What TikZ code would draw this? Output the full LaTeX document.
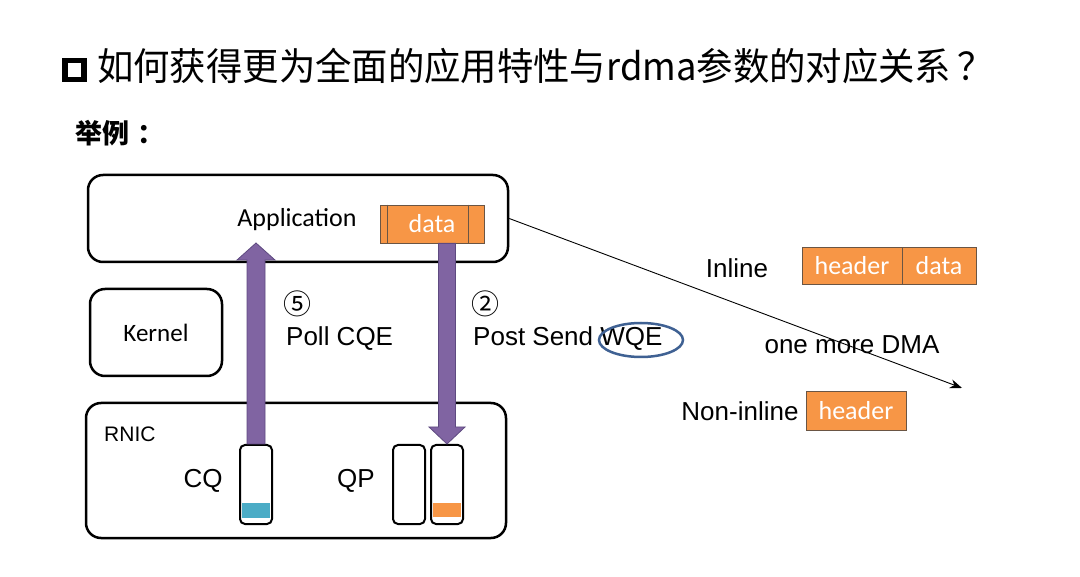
\documentclass[tikz,border=0pt]{standalone}
\usepackage{fontspec}
\setmainfont{Liberation Sans}
\newfontfamily\cjk{Noto Sans CJK SC}
\newfontfamily\calfont{Carlito}
\usetikzlibrary{arrows.meta,calc,shapes.geometric}
\definecolor{orng}{HTML}{F79646}
\definecolor{obrd}{HTML}{6A5544}
\definecolor{arrfill}{HTML}{8064A2}
\definecolor{arrbrd}{HTML}{5E4A80}
\definecolor{cqblue}{HTML}{4BACC6}
\definecolor{ellblue}{HTML}{3F6193}
\begin{document}
\begin{tikzpicture}[x=1pt,y=-1pt,
  rbox/.style={draw, line width=2.5pt, rounded corners=15pt, inner sep=0pt},
  tube/.style={draw, line width=2pt, rounded corners=5pt, minimum width=32pt, minimum height=79pt, inner sep=0pt},
  obox/.style={draw=obrd, line width=0.8pt, fill=orng, text=white, inner sep=0pt, font=\calfont\fontsize{26}{30}\selectfont},
  lbl/.style={font=\fontsize{26}{30}\selectfont, inner sep=0pt},
  clbl/.style={font=\calfont\fontsize{26}{30}\selectfont, inner sep=0pt},
  circ/.style={font=\cjk\fontsize{28}{30}\selectfont, inner sep=0pt},
  fatarrow/.style={fill=arrfill, draw=arrbrd, line width=0.8pt}
]
\useasboundingbox (0,0) rectangle (1080,577);
\fill[white] (0,0) rectangle (1080,577);

% title
\node[draw, line width=5.5pt, minimum size=19pt, inner sep=0pt] (sq) at (74.5,70) {};
\node[anchor=base west, inner sep=0pt] (title) at (97,81)
  {\scalebox{0.957}[1.0]{\cjk\fontsize{38}{42}\selectfont 如何获得更为全面的应用特性与rdma参数的对应关系\hspace{7pt}？}};
\node[anchor=base west, inner sep=0pt] (ex) at (75,144)
  {\cjk\bfseries\fontsize{27}{30}\selectfont 举例\hspace{8pt}：};

% boxes
\node[rbox, minimum width=420pt, minimum height=87pt] (app) at (298,218.5) {};
\node[clbl] (applbl) at (297,220) {Application};
\node[rbox, minimum width=132pt, minimum height=87pt] (kern) at (156,332.5) {};
\node[clbl, font=\calfont\fontsize{25}{30}\selectfont] (kernlbl) at (156,333) {Kernel};
\node[rbox, minimum width=420pt, minimum height=135pt] (rnic) at (296,470.5) {};
\node[lbl, anchor=west, font=\fontsize{21}{25}\selectfont] (rniclbl) at (104,434) {RNIC};

% data box in application
\node[obox, minimum width=104pt, minimum height=38pt] (data) at (432,224) {data};
\draw[obrd, line width=0.8pt] ($(data.north west)+(8,0)$) -- ($(data.south west)+(8,0)$);
\draw[obrd, line width=0.8pt] ($(data.north east)+(-16,0)$) -- ($(data.south east)+(-16,0)$);

% queues
\fill[cqblue] (242,503) rectangle (270,518);
\fill[orng] (433,503) rectangle (461,517);
\node[tube] (cq) at (256,484.5) {};
\node[tube] (qpl) at (409,484.5) {};
\node[tube] (qpr) at (447,484.5) {};
\node[lbl] (cqlbl) at (203,481) {CQ};
\node[lbl] (qplbl) at (356,481) {QP};

% fat arrows
\coordinate (uptip) at (256,243);
\path[fatarrow] ($(cq.north)+(-9,0)$) -- ($(uptip)+(-9,17)$) -- ($(uptip)+(-19,17)$) -- (uptip)
  -- ($(uptip)+(19,17)$) -- ($(uptip)+(9,17)$) -- ($(cq.north)+(9,0)$) -- cycle;
\coordinate (dntail) at (qpr.north |- data.south);
\path[fatarrow] ($(dntail)+(-8.5,0)$) -- ($(qpr.north)+(-8.5,-17)$) -- ($(qpr.north)+(-18,-17)$) -- (qpr.north)
  -- ($(qpr.north)+(18,-17)$) -- ($(qpr.north)+(8.5,-17)$) -- ($(dntail)+(8.5,0)$) -- cycle;

% step labels
\node[circ] (c5) at (297,304) {⑤};
\node[lbl, anchor=west] (poll) at (286,339) {Poll CQE};
\node[circ] (c2) at (485,304) {②};
\node[lbl, anchor=west] (post) at (473,339) {Post Send WQE};
\node[draw=ellblue, line width=2.5pt, ellipse, minimum width=84pt, minimum height=34pt, inner sep=0pt] (wqe) at (641,340) {};

% DMA line
\coordinate (dmaend) at (962,388);
\draw[line width=0.9pt, -{Stealth[length=12pt,width=9pt]}] (app.east) -- (dmaend);

% inline / non-inline
\node[lbl] (inl) at (737,268) {Inline};
\node[obox, minimum width=100pt, minimum height=37pt] (ih) at (852,265.5) {header};
\node[obox, minimum width=74pt, minimum height=37pt] (idata) at (939,265.5) {data};
\node[lbl] (dma) at (852,345) {one more DMA};
\node[lbl] (ninl) at (740,411) {Non-inline};
\node[obox, minimum width=100pt, minimum height=39pt] (nh) at (856,410.5) {header};
\end{tikzpicture}
\end{document}
